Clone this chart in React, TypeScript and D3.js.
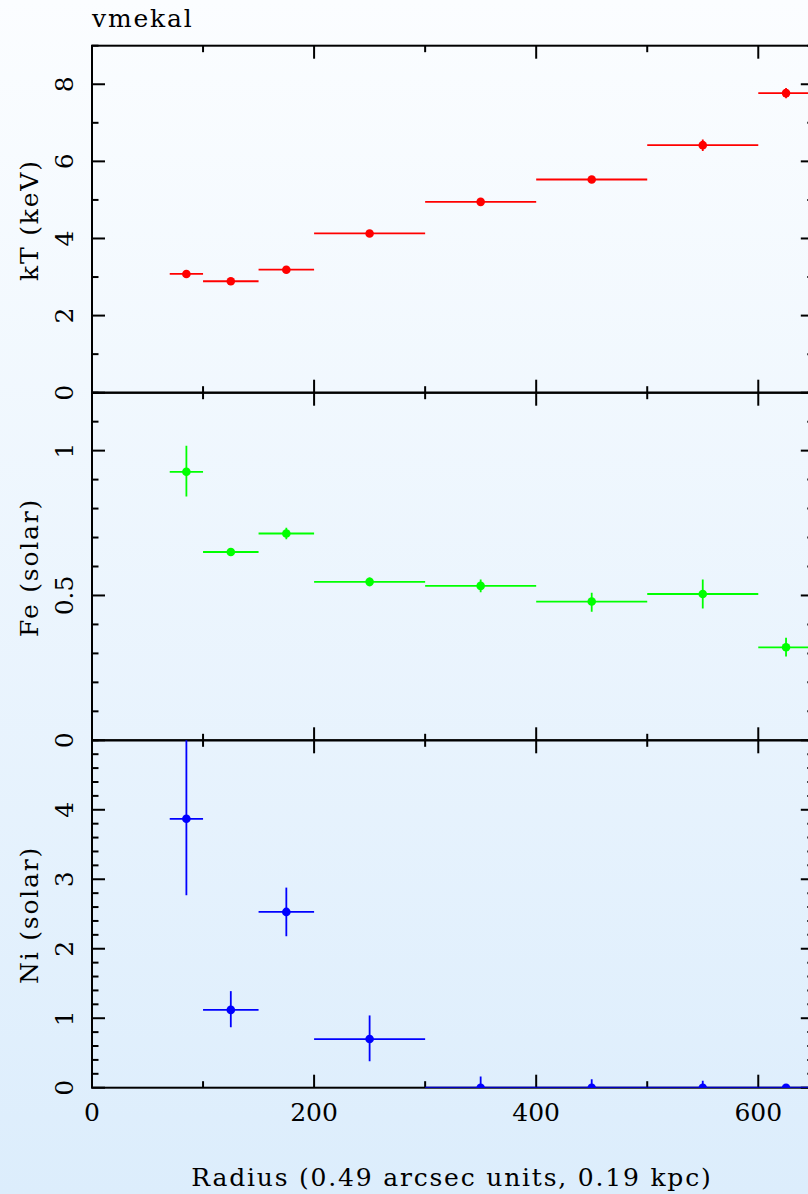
import React from "react";
import * as d3 from "d3";

const binLo = [70, 100, 150, 200, 300, 400, 500, 600];
const binHi = [100, 150, 200, 300, 400, 500, 600, 650];
const binMid = [85, 125, 175, 250, 350, 450, 550, 625];

const kT = [3.08, 2.89, 3.19, 4.13, 4.95, 5.53, 6.42, 7.77];
const kTErrLo = [0.05, 0.05, 0.05, 0.05, 0.05, 0.06, 0.15, 0.13];
const kTErrHi = [0.05, 0.05, 0.05, 0.05, 0.05, 0.06, 0.15, 0.13];

const fe = [0.927, 0.65, 0.714, 0.547, 0.533, 0.479, 0.505, 0.321];
const feErrLo = [0.085, 0.012, 0.02, 0.015, 0.022, 0.035, 0.05, 0.032];
const feErrHi = [0.09, 0.012, 0.02, 0.015, 0.022, 0.03, 0.05, 0.033];

const ni = [3.87, 1.12, 2.53, 0.7, 0.0, 0.0, 0.0, 0.0];
const niErrLo = [1.1, 0.25, 0.35, 0.32, 0, 0, 0, 0];
const niErrHi = [1.5, 0.27, 0.35, 0.34, 0.16, 0.12, 0.1, 0];

const xTickLabels = [0, 200, 400, 600];

const W = 808;
const H = 1194;
const left = 92;
const right = 813.8;
const FONT = "'DejaVu Serif', serif";
const LS = 1.8;

type Panel = {
  top: number;
  bottom: number;
  domain: [number, number];
  major: number[];
  minorStep: number;
  label: string;
  color: string;
  values: number[];
  errLo: number[];
  errHi: number[];
  id: string;
};

const panels: Panel[] = [
  {
    top: 45.7, bottom: 392.7, domain: [0, 9], major: [0, 2, 4, 6, 8], minorStep: 1,
    label: "kT (keV)", color: "#ff0000", values: kT, errLo: kTErrLo, errHi: kTErrHi, id: "p1",
  },
  {
    top: 392.7, bottom: 740.3, domain: [0, 1.2], major: [0, 0.5, 1], minorStep: 0.1,
    label: "Fe (solar)", color: "#00ff00", values: fe, errLo: feErrLo, errHi: feErrHi, id: "p2",
  },
  {
    top: 740.3, bottom: 1087.7, domain: [0, 5], major: [0, 1, 2, 3, 4], minorStep: 0.2,
    label: "Ni (solar)", color: "#0000ff", values: ni, errLo: niErrLo, errHi: niErrHi, id: "p3",
  },
];

const fmt = (v: number) => (v === 0 ? "0" : String(v));

export default function App() {
  const x = d3.scaleLinear().domain([0, 650]).range([left, right]);
  const xMajor = d3.range(0, 651, 200);
  const xMinor = d3.range(100, 651, 200);
  const MAJ = 13;
  const MIN = 6.5;

  return (
    <svg
      width={W}
      height={H}
      style={{ position: "absolute", left: 0, top: 0, display: "block" }}
      fontFamily={FONT}
    >
      <defs>
        <linearGradient id="bg" x1="0" y1="0" x2="0" y2="1">
          <stop offset="0%" stopColor="#fbfdff" />
          <stop offset="100%" stopColor="#dcedfc" />
        </linearGradient>
        {panels.map((p) => (
          <clipPath id={"clip-" + p.id} key={p.id}>
            <rect x={left} y={p.top} width={right - left} height={p.bottom - p.top} />
          </clipPath>
        ))}
      </defs>
      <rect x={0} y={0} width={W} height={H} fill="url(#bg)" />
      <text x={92} y={27} fontSize={25} letterSpacing={LS} fill="#000">vmekal</text>

      {panels.map((p) => {
        const y = d3.scaleLinear().domain(p.domain).range([p.bottom, p.top]);
        const minor = d3
          .range(p.domain[0], p.domain[1] + p.minorStep / 2, p.minorStep)
          .filter((v) => !p.major.some((m) => Math.abs(m - v) < 1e-6));
        const midY = (p.top + p.bottom) / 2;
        return (
          <g key={p.id}>
            <rect
              x={left}
              y={p.top}
              width={right - left}
              height={p.bottom - p.top}
              fill="none"
              stroke="#000"
              strokeWidth={2}
            />
            {p.major.map((v) => (
              <g key={"ym" + v}>
                <line x1={left} x2={left + MAJ} y1={y(v)} y2={y(v)} stroke="#000" strokeWidth={2} />
                <line x1={right} x2={right - MAJ} y1={y(v)} y2={y(v)} stroke="#000" strokeWidth={2} />
              </g>
            ))}
            {minor.map((v) => (
              <g key={"yn" + v}>
                <line x1={left} x2={left + MIN} y1={y(v)} y2={y(v)} stroke="#000" strokeWidth={2} />
                <line x1={right} x2={right - MIN} y1={y(v)} y2={y(v)} stroke="#000" strokeWidth={2} />
              </g>
            ))}
            {xMajor.map((v) => (
              <g key={"xm" + v}>
                <line x1={x(v)} x2={x(v)} y1={p.top} y2={p.top + MAJ} stroke="#000" strokeWidth={2} />
                <line x1={x(v)} x2={x(v)} y1={p.bottom} y2={p.bottom - MAJ} stroke="#000" strokeWidth={2} />
              </g>
            ))}
            {xMinor.map((v) => (
              <g key={"xn" + v}>
                <line x1={x(v)} x2={x(v)} y1={p.top} y2={p.top + MIN} stroke="#000" strokeWidth={2} />
                <line x1={x(v)} x2={x(v)} y1={p.bottom} y2={p.bottom - MIN} stroke="#000" strokeWidth={2} />
              </g>
            ))}
            {p.major.map((v) => (
              <text
                key={"yl" + v}
                transform={`translate(73,${y(v)}) rotate(-90)`}
                textAnchor="middle"
                fontSize={25}
                fill="#000"
              >
                {fmt(v)}
              </text>
            ))}
            <text
              transform={`translate(38,${midY + LS / 2}) rotate(-90)`}
              textAnchor="middle"
              fontSize={25}
              letterSpacing={LS}
              fill="#000"
            >
              {p.label}
            </text>
            <g clipPath={`url(#clip-${p.id})`}>
              {p.values.map((v, i) => (
                <g key={"d" + i}>
                  <line
                    x1={x(binLo[i])}
                    x2={x(binHi[i])}
                    y1={y(v)}
                    y2={y(v)}
                    stroke={p.color}
                    strokeWidth={1.8}
                  />
                  {p.errLo[i] + p.errHi[i] > 0 && (
                    <line
                      x1={x(binMid[i])}
                      x2={x(binMid[i])}
                      y1={y(v - p.errLo[i])}
                      y2={y(v + p.errHi[i])}
                      stroke={p.color}
                      strokeWidth={1.8}
                    />
                  )}
                  <circle cx={x(binMid[i])} cy={y(v)} r={4.3} fill={p.color} />
                </g>
              ))}
            </g>
          </g>
        );
      })}

      {xTickLabels.map((v) => (
        <text key={"xl" + v} x={x(v)} y={1121} textAnchor="middle" fontSize={25} fill="#000">
          {v}
        </text>
      ))}
      <text x={451 + LS / 2} y={1186} textAnchor="middle" fontSize={25} letterSpacing={LS} fill="#000">
        Radius (0.49 arcsec units, 0.19 kpc)
      </text>
    </svg>
  );
}
